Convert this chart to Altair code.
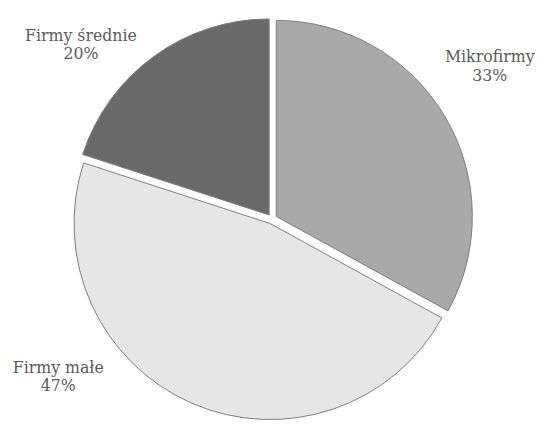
import altair as alt
import pandas as pd

# Data
categories = ["Mikrofirmy", "Firmy małe", "Firmy średnie"]
shares = [33, 47, 20]
share_labels = ["33%", "47%", "20%"]

# Styling
colors = ["#a9a9a9", "#e6e6e6", "#6a6a6a"]
W, H = 540, 418
CX, CY = 268, 211
R = 199
EXPLODE = 5
label_pos = {
    "Mikrofirmy": (489, 52),
    "Firmy średnie": (74, 30),
    "Firmy małe": (51, 367),
}

df = pd.DataFrame({
    "category": categories,
    "share": shares,
    "label": share_labels,
    "order": list(range(len(categories))),
})

base = alt.Chart(df).transform_window(
    cum="sum(share)", sort=[alt.SortField("order")], frame=[None, 0]
).transform_calculate(
    start="datum.cum - datum.share",
    mid="(datum.cum - datum.share / 2) / 100 * 2 * PI",
).transform_calculate(
    ex=f"{CX} + {EXPLODE} * sin(datum.mid)",
    ey=f"{CY} - {EXPLODE} * cos(datum.mid)",
)

pie = base.mark_arc(radius=R, stroke="#7c7c7c", strokeWidth=1).encode(
    theta=alt.Theta("start:Q", scale=alt.Scale(domain=[0, 100])),
    theta2="cum:Q",
    x=alt.X("ex:Q", scale=None, axis=None),
    y=alt.Y("ey:Q", scale=None, axis=None),
    color=alt.Color("category:N", scale=alt.Scale(domain=categories, range=colors), legend=None),
)

layers = [pie]
for cat, (lx, ly) in label_pos.items():
    t = alt.Chart(df).transform_filter(
        alt.datum.category == cat
    ).transform_calculate(
        txt="datum.category + '\\n' + datum.label"
    ).mark_text(
        font="DejaVu Serif", fontSize=16, color="#5a5a5a",
        align="center", baseline="alphabetic", lineBreak="\n", lineHeight=19,
    ).encode(
        x=alt.value(lx), y=alt.value(ly), text="txt:N"
    )
    layers.append(t)

chart = alt.layer(*layers).properties(
    width=W, height=H, padding=0, autosize=alt.AutoSizeParams(type="none")
).configure_view(stroke=None)

chart.save("out.html", embed_options={"renderer": "svg", "actions": False})
